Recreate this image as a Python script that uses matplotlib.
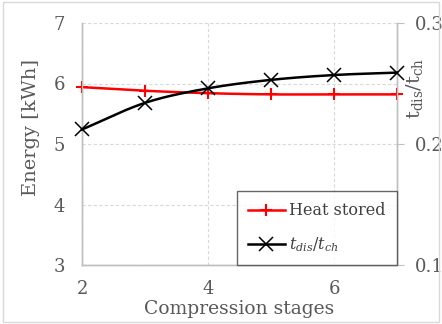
import numpy as np
import matplotlib
matplotlib.use("Agg")
import matplotlib.pyplot as plt
from matplotlib.lines import Line2D
from matplotlib.patches import Rectangle

# ── Data ──────────────────────────────────────────────────────────────────────
stages      = [2, 3, 4, 5, 6, 7]
heat_stored = [5.94, 5.88, 5.84, 5.82, 5.82, 5.82]
t_ratio     = [0.212, 0.234, 0.246, 0.253, 0.257, 0.259]

GREY = "#595959"
plt.rcParams["font.family"] = ["DejaVu Serif"]
plt.rcParams["mathtext.fontset"] = "dejavuserif"


def smooth(x, y, n=30):
    """Catmull-Rom curve through the points (Excel-style smoothed line)."""
    x = np.asarray(x, float); y = np.asarray(y, float)
    px = np.concatenate([[2 * x[0] - x[1]], x, [2 * x[-1] - x[-2]]])
    py = np.concatenate([[2 * y[0] - y[1]], y, [2 * y[-1] - y[-2]]])
    xs, ys = [], []
    t = np.linspace(0, 1, n)
    for i in range(1, len(px) - 2):
        for p, out in ((px, xs), (py, ys)):
            p0, p1, p2, p3 = p[i - 1], p[i], p[i + 1], p[i + 2]
            out.extend(0.5 * (2 * p1 + (-p0 + p2) * t
                              + (2 * p0 - 5 * p1 + 4 * p2 - p3) * t ** 2
                              + (-p0 + 3 * p1 - 3 * p2 + p3) * t ** 3))
    return np.array(xs), np.array(ys)


fig = plt.figure(figsize=(4.42, 3.24), dpi=100)
ax = fig.add_axes([82 / 442, 1 - 265 / 324, 315 / 442, 242 / 324])
ax2 = ax.twinx()

# frame around the whole chart area
fig.patches.append(Rectangle((0.006, 0.006), 0.988, 0.988, transform=fig.transFigure,
                             fill=False, edgecolor="#d9d9d9", linewidth=1.0))

sx, sy = smooth(stages, heat_stored)
ax.plot(sx, sy, color="red", linewidth=1.8, zorder=3, clip_on=False)
ax.plot(stages, heat_stored, linestyle="none", marker="+", color="red",
        markersize=8, markeredgewidth=1.5, zorder=4, clip_on=False)

tx, ty = smooth(stages, t_ratio)
ax2.plot(tx, ty, color="black", linewidth=1.8, zorder=3, clip_on=False)
ax2.plot(stages, t_ratio, linestyle="none", marker="x", color="black",
         markersize=10, markeredgewidth=1.1, zorder=4, clip_on=False)

ax.set_xlim(2, 7)
ax.set_ylim(3, 7)
ax2.set_ylim(0.1, 0.3)
ax.set_xticks([2, 4, 6])
ax.set_yticks([3, 4, 5, 6, 7])
ax2.set_yticks([0.1, 0.2, 0.3])
ax2.set_yticklabels(["0.1", "0.2", "0.3"])

ax.grid(True, linestyle=(0, (3, 2)), color="#d9d9d9", linewidth=0.8)
ax.set_axisbelow(True)

for a in (ax, ax2):
    a.spines["top"].set_visible(False)
    for side in ("left", "right", "bottom"):
        a.spines[side].set_color("#bfbfbf")
        a.spines[side].set_linewidth(1.0)
ax.tick_params(axis="x", length=0, colors=GREY, labelsize=13, pad=11)
ax.tick_params(axis="y", length=0, colors=GREY, labelsize=13, pad=12)
ax2.tick_params(axis="y", length=5, color="#bfbfbf", colors=GREY, labelsize=13, pad=8)

ax.set_xlabel("Compression stages", color=GREY, fontsize=13.5)
ax.xaxis.set_label_coords(0.5, -0.145)
ax.set_ylabel("Energy [kWh]", color=GREY, fontsize=14)
ax.yaxis.set_label_coords(-0.133, 0.57)
ax2.set_ylabel(r"$\mathrm{t_{dis}/t_{ch}}$", color=GREY, fontsize=14)
ax2.yaxis.set_label_coords(1.0 + 7 / 315, 0.73)

handles = [Line2D([], [], color="red", marker="+", markersize=8, markeredgewidth=1.5, linewidth=1.8),
           Line2D([], [], color="black", marker="x", markersize=10, markeredgewidth=1.1, linewidth=1.8)]
leg = ax2.legend(handles, ["Heat stored", r"$t_{dis}/t_{ch}$"], loc="lower right",
                 bbox_to_anchor=(1.0, 0.0), fontsize=11.5, frameon=True, fancybox=False,
                 edgecolor="#404040", borderpad=0.7, labelspacing=1.0,
                 handlelength=2.3, handletextpad=0.3, borderaxespad=0)
leg.get_frame().set_linewidth(1.0)
for t in leg.get_texts():
    t.set_color("#404040")

fig.savefig("out.png", dpi=100)
